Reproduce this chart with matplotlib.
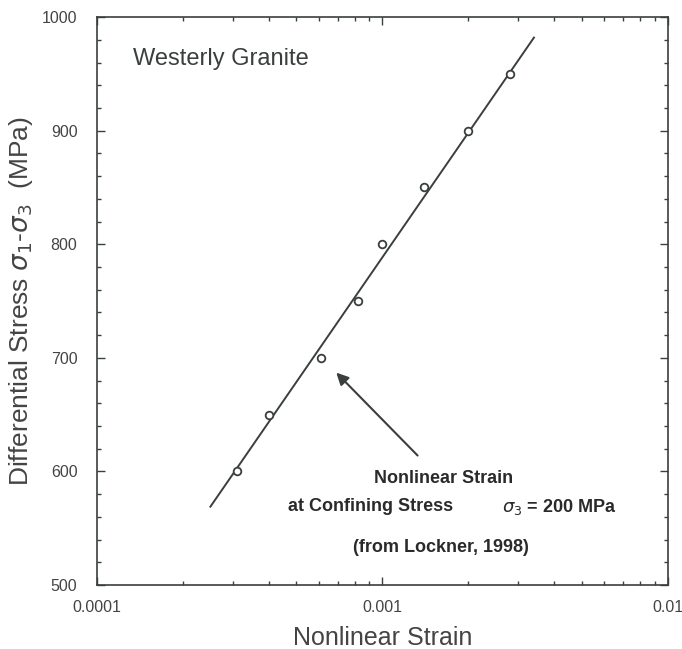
import numpy as np
import matplotlib
matplotlib.use("Agg")
import matplotlib.pyplot as plt
from matplotlib.ticker import MultipleLocator, LogLocator, FixedLocator, FixedFormatter

# measured points (Lockner, 1998)
strain = [0.00031, 0.0004, 0.00061, 0.00082, 0.001, 0.0014, 0.002, 0.0028]
stress = [600, 650, 700, 750, 800, 850, 900, 950]

# fitted line end points
fit_strain = [0.00025, 0.0034]
fit_stress = [569, 982]

xticks = [0.0001, 0.001, 0.01]
xticklabels = ["0.0001", "0.001", "0.01"]

plt.rcParams['font.family'] = ['Liberation Sans', 'DejaVu Sans']
plt.rcParams['mathtext.fontset'] = 'dejavusans'
col = '#3a3f3d'

fig = plt.figure(figsize=(6.82, 6.49), dpi=100)
ax = fig.add_axes([0.142, 0.0986, 0.837, 0.875])

ax.plot(fit_strain, fit_stress, color=col, lw=1.4)
ax.plot(strain, stress, 'o', mfc='white', mec=col, mew=1.3, ms=5.5)

ax.set_xscale('log')
ax.set_xlim(0.0001, 0.01)
ax.set_ylim(500, 1000)
ax.xaxis.set_major_locator(FixedLocator(xticks))
ax.xaxis.set_major_formatter(FixedFormatter(xticklabels))
ax.xaxis.set_minor_locator(LogLocator(base=10, subs=np.arange(2, 10)))
ax.xaxis.set_minor_formatter(plt.NullFormatter())
ax.yaxis.set_major_locator(MultipleLocator(100))
ax.yaxis.set_minor_locator(MultipleLocator(20))

ax.tick_params(which='both', direction='in', top=True, right=True,
               colors=col, labelsize=11.5, labelcolor='#444444', width=1)
ax.tick_params(which='major', length=6)
ax.tick_params(which='minor', length=3)
ax.tick_params(axis='x', which='major', pad=11)
ax.tick_params(axis='y', which='major', pad=14)
for s in ax.spines.values():
    s.set_color(col)
    s.set_linewidth(1.2)

ax.set_xlabel('Nonlinear Strain', fontsize=18, color='#444444', labelpad=8)
ax.set_ylabel(r'Differential Stress $\sigma_1$-$\sigma_3$  (MPa)', fontsize=19,
              color='#444444', labelpad=5)

ax.text(0.0001337, 963, 'Westerly Granite', fontsize=17, color=col,
        va='center')

ax.annotate('', xy=(0.00069, 687), xytext=(0.00133, 614),
            arrowprops=dict(arrowstyle='-|>', color=col, lw=1.5,
                            mutation_scale=18, shrinkA=0, shrinkB=0))
txtcol = '#2a2a2a'
ax.text(0.00164, 594, 'Nonlinear Strain', fontsize=13, color=txtcol,
        fontweight='bold', ha='center', va='center')
ax.text(0.000467, 569, 'at Confining Stress', fontsize=13, color=txtcol,
        fontweight='bold', ha='left', va='center')
ax.text(0.00262, 569, r'$\sigma_3$ = 200 MPa', fontsize=13, color=txtcol,
        fontweight='bold', ha='left', va='center')
ax.text(0.0016, 533, '(from Lockner, 1998)', fontsize=13, color=txtcol,
        fontweight='bold', ha='center', va='center')

plt.savefig('out.png', dpi=100)
